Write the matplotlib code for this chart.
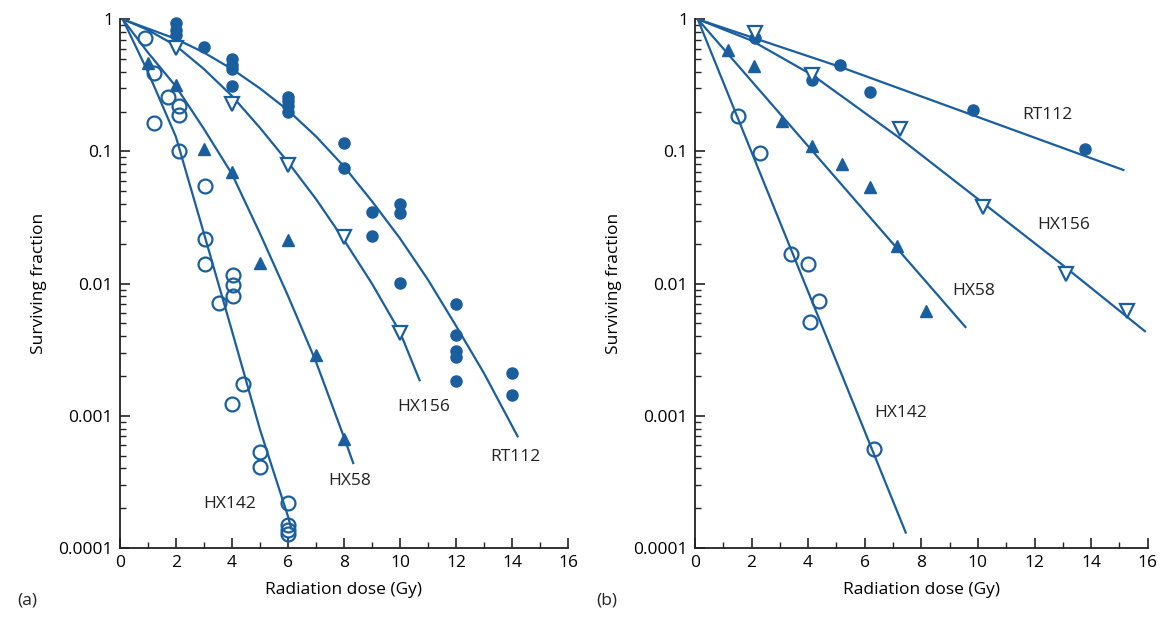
import numpy as np
import matplotlib
matplotlib.use("Agg")
import matplotlib.pyplot as plt
from matplotlib.ticker import LogLocator, FixedLocator, NullFormatter

plt.rcParams['font.family'] = ['Open Sans', 'DejaVu Sans']

blue = '#1b5e9e'

# ---- panel (a): data points ----
rt112_a_x = [2, 2, 2, 3, 4, 4, 4, 4, 6, 6, 6, 6, 8, 8, 9, 9, 10, 10, 10, 12, 12, 12, 12, 12, 14, 14]
rt112_a_y = [0.93, 0.83, 0.76, 0.62, 0.50, 0.45, 0.42, 0.31, 0.26, 0.24, 0.22, 0.20, 0.115, 0.075,
             0.035, 0.023, 0.040, 0.034, 0.0101, 0.0070, 0.0041, 0.0031, 0.0028, 0.00184, 0.0021, 0.00144]
hx156_a_x = [2, 4, 6, 8, 10]
hx156_a_y = [0.61, 0.23, 0.079, 0.0225, 0.0042]
hx58_a_x = [1, 2, 3, 4, 5, 6, 7, 8]
hx58_a_y = [0.47, 0.32, 0.105, 0.070, 0.0144, 0.0214, 0.0029, 0.00067]
hx142_a_x = [0.9, 1.2, 1.2, 1.7, 2.1, 2.1, 2.1, 3.05, 3.05, 3.05, 3.55, 4.05, 4.05, 4.05,
             4.4, 4.0, 5.0, 5.0, 6.0, 6.0, 6.0, 6.0]
hx142_a_y = [0.72, 0.39, 0.164, 0.26, 0.22, 0.19, 0.10, 0.055, 0.0217, 0.0141, 0.0072, 0.0117,
             0.0097, 0.0080, 0.00175, 0.00124, 0.00053, 0.00041, 0.00022, 0.000149, 0.000137, 0.000128]

# ---- panel (a): fitted curves ----
rt112_a_cx = [0.1, 1, 2, 3, 4, 5, 6, 7, 8, 9, 10, 11, 12, 13, 14.2]
rt112_a_cy = [1, 0.85, 0.71, 0.56, 0.42, 0.30, 0.205, 0.13, 0.077, 0.042, 0.022, 0.0107, 0.0048, 0.0021, 0.0007]
hx156_a_cx = [0.1, 1, 2, 3, 4, 5, 6, 7, 8, 9, 10, 10.7]
hx156_a_cy = [1, 0.83, 0.63, 0.42, 0.263, 0.151, 0.083, 0.0437, 0.0214, 0.010, 0.0043, 0.00186]
hx58_a_cx = [0.1, 1, 2, 3, 4, 5, 6, 7, 8, 8.33]
hx58_a_cy = [1, 0.56, 0.31, 0.148, 0.0676, 0.024, 0.0081, 0.00257, 0.00069, 0.00044]
hx142_a_cx = [0.1, 1, 2, 3, 4, 5, 6, 6.12]
hx142_a_cy = [1, 0.40, 0.129, 0.024, 0.0044, 0.00079, 0.000174, 0.000141]

# ---- panel (b): data points ----
rt112_b_x = [2.13, 4.13, 5.13, 6.2, 9.82, 13.77]
rt112_b_y = [0.72, 0.35, 0.447, 0.283, 0.205, 0.105]
hx156_b_x = [2.13, 4.13, 7.26, 10.18, 13.1, 15.28]
hx156_b_y = [0.79, 0.377, 0.148, 0.038, 0.0119, 0.0062]
hx58_b_x = [1.18, 2.10, 3.09, 4.13, 5.19, 6.18, 7.13, 8.18]
hx58_b_y = [0.59, 0.44, 0.17, 0.109, 0.081, 0.054, 0.0194, 0.0062]
hx142_b_x = [1.54, 2.29, 3.38, 4.0, 4.37, 4.08, 6.34]
hx142_b_y = [0.185, 0.098, 0.0167, 0.0141, 0.0074, 0.0051, 0.00056]

# ---- panel (b): fitted lines ----
rt112_b_cx = [0.1, 5.12, 15.14]
rt112_b_cy = [1, 0.437, 0.0724]
hx156_b_cx = [0.1, 2, 4.17, 7.24, 10, 13, 15.9]
hx156_b_cy = [1, 0.69, 0.376, 0.126, 0.0437, 0.0138, 0.00437]
hx58_b_cx = [0.1, 9.56]
hx58_b_cy = [1, 0.0047]
hx142_b_cx = [0.1, 7.45]
hx142_b_cy = [1, 0.000131]

labels_a = [("HX142", 3.93, 0.000214), ("HX58", 8.22, 0.00032),
            ("HX156", 10.86, 0.00116), ("RT112", 14.11, 0.00049)]
labels_b = [("RT112", 12.45, 0.188), ("HX156", 13.04, 0.028),
            ("HX58", 9.86, 0.00885), ("HX142", 7.26, 0.00105)]

fig = plt.figure(figsize=(11.64, 6.2), dpi=100)
ax_a = fig.add_axes([0.103, 0.116, 0.385, 0.853])
ax_b = fig.add_axes([0.597, 0.116, 0.389, 0.853])


def style_axes(ax):
    ax.set_yscale('log')
    ax.set_xlim(0, 16)
    ax.set_ylim(1e-4, 1)
    for s in ['top', 'right']:
        ax.spines[s].set_visible(False)
    for s in ['left', 'bottom']:
        ax.spines[s].set_linewidth(1.3)
        ax.spines[s].set_color('#222222')
    ax.xaxis.set_major_locator(FixedLocator(range(0, 17, 2)))
    ax.xaxis.set_minor_locator(FixedLocator(range(1, 17, 2)))
    ax.yaxis.set_major_locator(FixedLocator([1e-4, 1e-3, 1e-2, 1e-1, 1]))
    ax.yaxis.set_minor_locator(LogLocator(base=10, subs=np.arange(2, 10)))
    ax.yaxis.set_minor_formatter(NullFormatter())
    ax.set_yticklabels(['0.0001', '0.001', '0.01', '0.1', '1'])
    ax.tick_params(which='major', direction='in', length=7, width=1.2, labelsize=12.5,
                   color='#222222', pad=5)
    ax.tick_params(which='minor', direction='in', length=4, width=1.0, color='#222222')
    ax.set_xlabel('Radiation dose (Gy)', fontsize=12.5, labelpad=8)
    ax.set_ylabel('Surviving fraction', fontsize=12.5, labelpad=8)


for ax in (ax_a, ax_b):
    style_axes(ax)

lw = 1.6
# panel (a)
ax_a.plot(rt112_a_cx, rt112_a_cy, color=blue, lw=lw)
ax_a.plot(hx156_a_cx, hx156_a_cy, color=blue, lw=lw)
ax_a.plot(hx58_a_cx, hx58_a_cy, color=blue, lw=lw)
ax_a.plot(hx142_a_cx, hx142_a_cy, color=blue, lw=lw)
ax_a.plot(rt112_a_x, rt112_a_y, 'o', color=blue, ms=8, ls='none', clip_on=False)
ax_a.plot(hx156_a_x, hx156_a_y, 'v', mfc='white', mec=blue, mew=1.6, ms=10, ls='none')
ax_a.plot(hx58_a_x, hx58_a_y, '^', color=blue, ms=8, ls='none')
ax_a.plot(hx142_a_x, hx142_a_y, 'o', mfc='none', mec=blue, mew=1.6, ms=10, ls='none', clip_on=False)

# panel (b)
ax_b.plot(rt112_b_cx, rt112_b_cy, color=blue, lw=lw)
ax_b.plot(hx156_b_cx, hx156_b_cy, color=blue, lw=lw)
ax_b.plot(hx58_b_cx, hx58_b_cy, color=blue, lw=lw)
ax_b.plot(hx142_b_cx, hx142_b_cy, color=blue, lw=lw)
ax_b.plot(rt112_b_x, rt112_b_y, 'o', color=blue, ms=8, ls='none')
ax_b.plot(hx156_b_x, hx156_b_y, 'v', mfc='white', mec=blue, mew=1.6, ms=10, ls='none')
ax_b.plot(hx58_b_x, hx58_b_y, '^', color=blue, ms=8, ls='none')
ax_b.plot(hx142_b_x, hx142_b_y, 'o', mfc='none', mec=blue, mew=1.6, ms=10, ls='none')

for name, x, y in labels_a:
    ax_a.text(x, y, name, ha='center', va='center', fontsize=12.5, color='#222222')
for name, x, y in labels_b:
    ax_b.text(x, y, name, ha='center', va='center', fontsize=12.5, color='#222222')

fig.text(0.015, 0.025, '(a)', fontsize=12.5, color='#222222')
fig.text(0.512, 0.025, '(b)', fontsize=12.5, color='#222222')

fig.savefig('out.png', dpi=100, facecolor='white')
